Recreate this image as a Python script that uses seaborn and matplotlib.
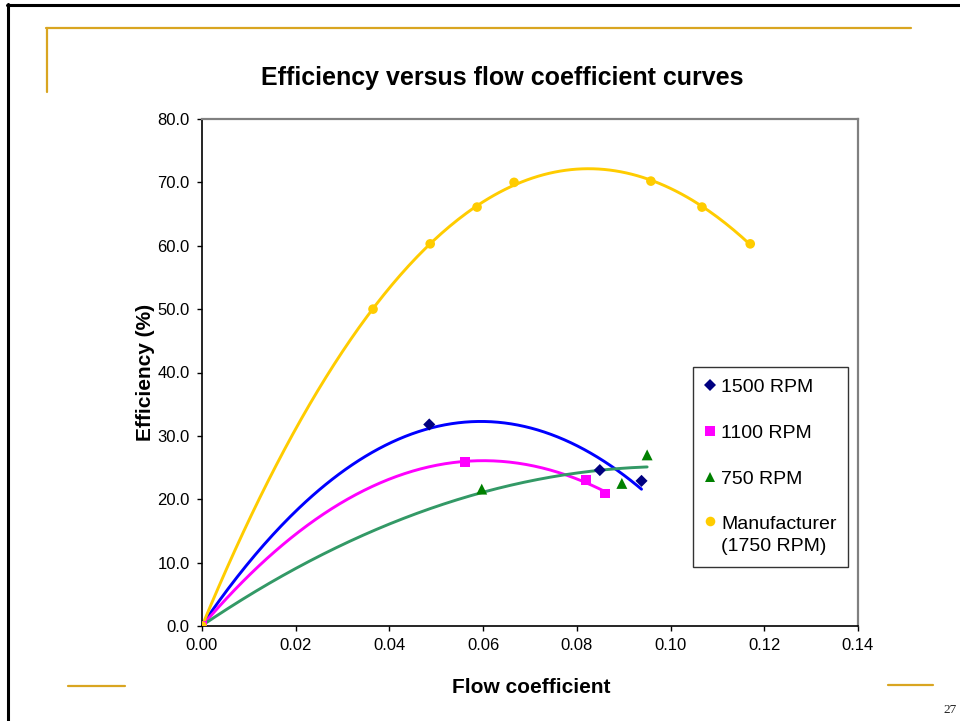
import numpy as np
import pandas as pd
import matplotlib
matplotlib.use("Agg")
import matplotlib.pyplot as plt
import seaborn as sns
from matplotlib.lines import Line2D
from matplotlib.legend_handler import HandlerLine2D

sns.set_theme(style="white")
plt.rcParams["font.family"] = ["Liberation Sans", "DejaVu Sans"]

# Measured efficiency vs flow coefficient for each speed
series_names = ["1500 RPM", "1100 RPM", "750 RPM", "Manufacturer\n(1750 RPM)"]

phi_1500 = [0.0, 0.0485, 0.0849, 0.0938]
eff_1500 = [0.0, 31.8, 24.6, 22.9]

phi_1100 = [0.0, 0.0561, 0.0819, 0.0860]
eff_1100 = [0.0, 25.9, 23.0, 20.9]

phi_750 = [0.0, 0.0597, 0.0896, 0.0950]
eff_750 = [0.0, 21.6, 22.5, 27.0]

phi_mfr = [0.0, 0.0365, 0.0487, 0.0587, 0.0666, 0.0958, 0.1067, 0.1170]
eff_mfr = [0.0, 50.0, 60.3, 66.1, 70.0, 70.2, 66.1, 60.3]

x_ticks = [0.00, 0.02, 0.04, 0.06, 0.08, 0.10, 0.12, 0.14]
y_ticks = [0.0, 10.0, 20.0, 30.0, 40.0, 50.0, 60.0, 70.0, 80.0]

# polynomial order of each trendline
fit_order = [2, 2, 2, 3]

marker_colors = ["#000080", "#FF00FF", "#008000", "#FFCC00"]
line_colors = ["#0000FF", "#FF00FF", "#339966", "#FFCC00"]
marker_shapes = ["D", "s", "^", "o"]
marker_sizes = [38, 48, 62, 48]

raw = [(phi_1500, eff_1500), (phi_1100, eff_1100), (phi_750, eff_750), (phi_mfr, eff_mfr)]

point_rows = []
trend_rows = []
for name, (xs, ys), order in zip(series_names, raw, fit_order):
    for x, y in zip(xs, ys):
        point_rows.append({"phi": x, "eff": y, "series": name})
    coeffs = np.polyfit(xs, ys, order)
    xf = np.linspace(0.0, max(xs), 200)
    for x, y in zip(xf, np.polyval(coeffs, xf)):
        trend_rows.append({"phi": x, "eff": y, "series": name})
points = pd.DataFrame(point_rows)
trends = pd.DataFrame(trend_rows)

W, H = 960, 721
fig = plt.figure(figsize=(W / 100, H / 100), dpi=100)
fig.patch.set_facecolor("white")

def fx(px):
    return px / W

def fy(py):
    return 1 - py / H

# slide decoration
gold = "#D9A521"
fig.add_artist(Line2D([fx(8), fx(8)], [fy(4), fy(721)], color="black", lw=2.2, transform=fig.transFigure))
fig.add_artist(Line2D([fx(7), fx(960)], [fy(5), fy(5)], color="black", lw=2.2, transform=fig.transFigure))
fig.add_artist(Line2D([fx(46), fx(911)], [fy(28), fy(28)], color=gold, lw=1.6, transform=fig.transFigure))
fig.add_artist(Line2D([fx(47), fx(47)], [fy(28), fy(92)], color=gold, lw=1.6, transform=fig.transFigure))
fig.add_artist(Line2D([fx(68), fx(125)], [fy(686), fy(686)], color=gold, lw=1.6, transform=fig.transFigure))
fig.add_artist(Line2D([fx(888), fx(933)], [fy(685), fy(685)], color=gold, lw=1.6, transform=fig.transFigure))
fig.text(fx(950), fy(710), "27", ha="center", va="center", fontsize=9.5,
         family=["Liberation Serif", "DejaVu Serif"], color="#222222")

fig.text(fx(502), fy(78), "Efficiency versus flow coefficient curves", ha="center", va="center",
         fontsize=18, fontweight="bold", color="black")

ax = fig.add_axes([fx(202), fy(626), (858 - 202) / W, (626 - 119) / H])
ax.set_facecolor("white")

sns.lineplot(data=trends, x="phi", y="eff", hue="series", hue_order=series_names,
             palette=line_colors, legend=False, linewidth=2.1, sort=False, ax=ax, zorder=2)

for name, shape, col, size in zip(series_names, marker_shapes, marker_colors, marker_sizes):
    sub = points[points["series"] == name]
    sns.scatterplot(data=sub, x="phi", y="eff", marker=shape, color=col, s=size,
                    edgecolor="none", linewidth=0, legend=False, ax=ax, zorder=3)

ax.set_xlim(0, 0.14)
ax.set_ylim(0, 80)
ax.set_xticks(x_ticks)
ax.set_xticklabels([f"{v:.2f}" for v in x_ticks])
ax.set_yticks(y_ticks)
ax.set_yticklabels([f"{v:.1f}" for v in y_ticks])
ax.tick_params(axis="both", which="major", direction="out", length=3.8, width=1.0,
               color="black", labelsize=12, labelcolor="black", bottom=True, left=True)
ax.tick_params(axis="y", pad=5)
ax.tick_params(axis="x", pad=5)

for side in ["left", "bottom"]:
    ax.spines[side].set_color("black")
    ax.spines[side].set_linewidth(1.2)
for side in ["top", "right"]:
    ax.spines[side].set_color("#808080")
    ax.spines[side].set_linewidth(1.6)
ax.grid(False)

ax.set_xlabel("Flow coefficient", fontsize=15, fontweight="bold", color="black")
ax.set_ylabel("Efficiency (%)", fontsize=15, fontweight="bold", color="black")
ax.xaxis.set_label_coords((531 - 202) / 656, (626 - 678) / 507)
ax.yaxis.set_label_coords((155 - 202) / 656, 0.5)


class TopLineHandler(HandlerLine2D):
    """Places the marker beside the first line of a two-line label."""

    def __init__(self, dy=0.0, **kw):
        super().__init__(**kw)
        self.dy = dy

    def create_artists(self, legend, orig_handle, xdescent, ydescent, width, height,
                       fontsize, trans):
        artists = super().create_artists(legend, orig_handle, xdescent, ydescent, width,
                                         height, fontsize, trans)
        for a in artists:
            a.set_ydata(np.asarray(a.get_ydata()) + self.dy)
        return artists


handles = [Line2D([0], [0], linestyle="none", marker=m, color=c,
                  markersize=(np.sqrt(s)), markeredgewidth=0)
           for m, c, s in zip(marker_shapes, marker_colors, marker_sizes)]
leg = ax.legend(handles, series_names, loc="upper left",
                bbox_to_anchor=((693 - 202) / 656, (626 - 367) / 507),
                borderaxespad=0, frameon=True, fancybox=False, shadow=False,
                fontsize=14, handlelength=0.5, handletextpad=0.35, borderpad=0.6,
                labelspacing=1.45,
                handler_map={handles[3]: TopLineHandler(dy=10.0)})
leg.get_frame().set_edgecolor("black")
leg.get_frame().set_linewidth(1.0)
for t in leg.get_texts():
    t.set_color("black")
    t.set_linespacing(1.4)

fig.savefig("out.png", dpi=100, facecolor="white")
